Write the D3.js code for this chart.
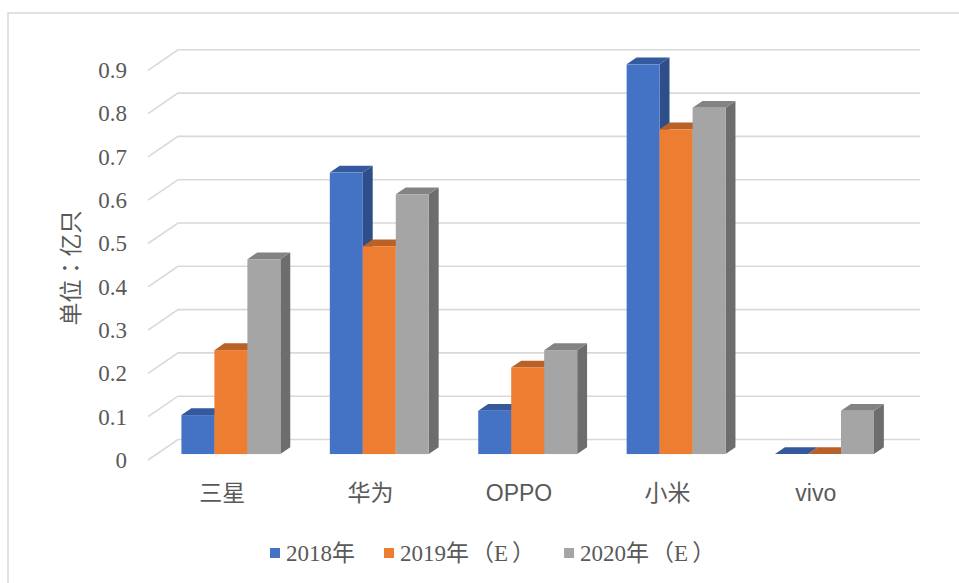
<!DOCTYPE html>
<html>
<head>
<meta charset="utf-8">
<script src="https://cdn.jsdelivr.net/npm/d3@7"></script>
<style>
  body { margin: 0; background: #fff; }
  svg { display: block; }
</style>
</head>
<body>
<svg id="chart" width="959" height="583"></svg>
<script>
// data (unit: 亿只)
const categories = ['三星', '华为', 'OPPO', '小米', 'vivo'];
const seriesNames = ['2018年', '2019年（E）', '2020年（E）'];
const s2018 = [0.09, 0.65, 0.10, 0.90, 0];
const s2019 = [0.24, 0.48, 0.20, 0.75, 0];
const s2020 = [0.45, 0.60, 0.24, 0.80, 0.10];
const tickValues = [0, 0.1, 0.2, 0.3, 0.4, 0.5, 0.6, 0.7, 0.8, 0.9];

const seriesValues = [s2018, s2019, s2020];
const front = ['#4472C4', '#ED7D31', '#A5A5A5'];
const topC = ['#34599C', '#BA6127', '#838383'];
const sideC = ['#2E4E8A', '#A65523', '#6D6D6D'];

const svg = d3.select('#chart');
const textColor = '#595959';
const serif = "'Liberation Serif', 'Noto Sans CJK SC', serif";
const sans = "'Liberation Sans', 'Noto Sans CJK SC', sans-serif";

// 3d depth: full depth of the floor
const depthX = 30, depthY = 20.5;
const left = 148, right = 890;

const x0 = d3.scaleBand().domain(categories).range([left, right]);
const bw = x0.bandwidth();
const x1 = d3.scaleBand().domain(d3.range(3))
  .range([bw * 0.75 / 4.5, bw * 3.75 / 4.5]);
const y = d3.scaleLinear().domain([0, 0.9]).range([460, 70.3]);

// chart frame
svg.append('rect')
  .attr('x', 8).attr('y', 13).attr('width', 1000).attr('height', 1000)
  .attr('fill', 'none').attr('stroke', '#D9D9D9').attr('stroke-width', 1.5);

// gridlines on the floor/back wall
const gridLine = d3.line().x(d => d[0]).y(d => d[1]);
svg.append('g').selectAll('path').data(tickValues).join('path')
  .attr('d', v => gridLine([
    [left, y(v)],
    [left + depthX, y(v) - depthY],
    [right + depthX, y(v) - depthY]
  ]))
  .attr('fill', 'none').attr('stroke', '#D9D9D9').attr('stroke-width', 1.6);

// y axis labels
const yAxis = svg.append('g')
  .attr('transform', `translate(${left},0)`)
  .call(d3.axisLeft(y).tickValues(tickValues).tickSize(0).tickPadding(21)
    .tickFormat(v => v === 0 ? '0' : d3.format('.1f')(v)));
yAxis.select('.domain').remove();
yAxis.selectAll('text')
  .attr('fill', textColor).style('font-family', serif).style('font-size', '23px');

// category labels
const xAxis = svg.append('g')
  .attr('transform', 'translate(0,493)')
  .call(d3.axisBottom(x0).tickSize(0).tickPadding(0));
xAxis.select('.domain').remove();
xAxis.selectAll('text')
  .attr('dy', '0.35em')
  .attr('fill', textColor).style('font-family', sans).style('font-size', '23px');

// bars: front face sits at z=0.29, bar depth 0.33 of the floor depth
const zf = 0.29, zd = 0.33;
const offX = depthX * zf, offY = depthY * zf;
const dX = depthX * zd, dY = depthY * zd;

const bars = [];
categories.forEach((c, i) => {
  seriesValues.forEach((vals, s) => {
    bars.push({ c, s, v: vals[i] });
  });
});

const g = svg.append('g');
bars.forEach(b => {
  const xl = x0(b.c) + x1(b.s) + offX;
  const xr = xl + x1.bandwidth();
  const yb = y(0) - offY;
  const yt = y(b.v) - offY;
  const bar = g.append('g');
  if (b.v > 0) {
    bar.append('path')
      .attr('d', gridLine([[xr, yb], [xr + dX, yb - dY], [xr + dX, yt - dY], [xr, yt]]) + 'Z')
      .attr('fill', sideC[b.s]);
  }
  bar.append('path')
    .attr('d', gridLine([[xl, yt], [xr, yt], [xr + dX, yt - dY], [xl + dX, yt - dY]]) + 'Z')
    .attr('fill', topC[b.s]);
  if (b.v > 0) {
    bar.append('rect')
      .attr('x', xl).attr('y', yt).attr('width', xr - xl).attr('height', yb - yt)
      .attr('fill', front[b.s]);
  }
});

// y axis title (TC glyph set centres the full-width colon)
svg.append('text')
  .attr('transform', 'translate(71,268) rotate(-90)')
  .attr('text-anchor', 'middle').attr('dy', '0.35em')
  .attr('fill', textColor)
  .style('font-family', "'Noto Sans CJK TC', 'Noto Sans CJK SC', sans-serif")
  .style('font-size', '23px')
  .text('单位：亿只');

// legend
const legend = svg.append('g');
let lx = 0;
seriesNames.forEach((name, s) => {
  const item = legend.append('g').attr('transform', `translate(${lx},0)`);
  item.append('rect').attr('x', 0).attr('y', -5).attr('width', 10).attr('height', 10)
    .attr('fill', front[s]);
  const t = item.append('text').attr('x', 16).attr('dy', '0.35em')
    .attr('fill', textColor).style('font-family', serif).style('font-size', '23px');
  // split so the full-width brackets get the wider spacing of the original
  const parts = name.match(/^([^（]*)(（)?([^）]*)?(）)?$/);
  t.append('tspan').text(parts[1]);
  if (parts[2]) {
    t.append('tspan').attr('dx', 2).text(parts[2])
      .style('font-family', "'Noto Sans CJK TC', sans-serif");
    t.append('tspan').attr('dx', 0).text(parts[3]);
    t.append('tspan').attr('dx', 4).text(parts[4])
      .style('font-family', "'Noto Sans CJK TC', sans-serif");
  }
  lx += 16 + t.node().getComputedTextLength() + (s === 0 ? 29 : 35);
});
legend.attr('transform', 'translate(270,553)');
</script>
</body>
</html>
